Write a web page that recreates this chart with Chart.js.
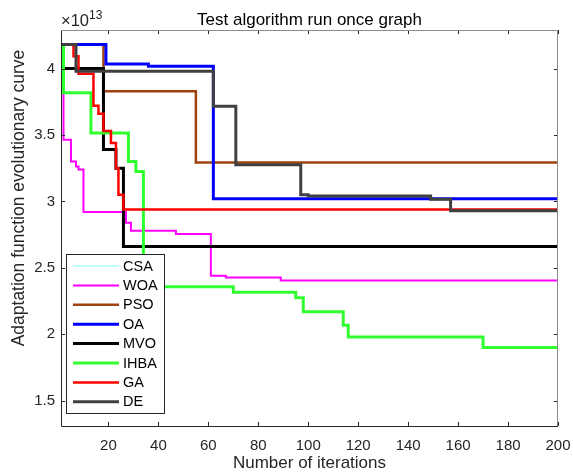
<!DOCTYPE html>
<html>
<head>
<meta charset="utf-8">
<script src="https://cdn.jsdelivr.net/npm/chart.js@4.4.0/dist/chart.umd.min.js"></script>
<style>
  html, body { margin: 0; padding: 0; background: #fff; }
</style>
</head>
<body>
<canvas id="graph" width="573" height="472"></canvas>
<script>
// best fitness per algorithm, in units of 1e13
// each pair of arrays: iteration where a new best appears, and that best value
var csaIter = [1, 7, 62, 71, 97, 100, 149, 157, 200];
var csaVals = [4.18, 3.98, 3.716, 3.276, 3.05, 3.04, 3.017, 2.93, 2.93];

var woaIter = [1, 2, 5, 7, 8, 10, 27, 29, 47, 61, 67, 89, 200];
var woaVals = [4.18, 3.465, 3.30, 3.263, 3.24, 2.92, 2.84, 2.78, 2.755, 2.44, 2.427, 2.404, 2.404];

var psoIter = [1, 18, 55, 200];
var psoVals = [4.18, 3.83, 3.293, 3.293];

var oaIter = [1, 19, 36, 62, 200];
var oaVals = [4.18, 4.035, 4.017, 3.02, 3.02];

var mvoIter = [1, 2, 18, 23, 26, 200];
var mvoVals = [4.18, 4.00, 3.39, 3.25, 2.66, 2.66];

var ihbaIter = [1, 2, 13, 28, 31, 34, 70, 95, 98, 114, 116, 170, 200];
var ihbaVals = [4.18, 3.817, 3.515, 3.30, 3.226, 2.358, 2.316, 2.275, 2.17, 2.069, 1.98, 1.90, 1.90];

var gaIter = [1, 6, 8, 14, 16, 18, 21, 23, 24, 26, 200];
var gaVals = [4.18, 4.093, 3.96, 3.72, 3.66, 3.53, 3.44, 3.25, 3.05, 2.94, 2.94];

var deIter = [1, 7, 62, 71, 97, 100, 149, 157, 200];
var deVals = [4.18, 3.98, 3.716, 3.276, 3.05, 3.04, 3.017, 2.93, 2.93];

var names = ['CSA', 'WOA', 'PSO', 'OA', 'MVO', 'IHBA', 'GA', 'DE'];
var xTicks = [20, 40, 60, 80, 100, 120, 140, 160, 180, 200];
var yTicks = [1.5, 2, 2.5, 3, 3.5, 4];

var colors = ['#80ffff', '#ff00ff', '#a0410d', '#0000ff', '#000000', '#30ff30', '#ff0000', '#404040'];
var widths = [1, 2, 2.5, 3, 3, 3, 2.5, 3];

var FONT = '"Liberation Sans", Arial, sans-serif';
var AXIS = '#262626';

function toPoints(iters, vals) {
    return iters.map(function (it, k) { return { x: it, y: vals[k] }; });
}

var allIter = [csaIter, woaIter, psoIter, oaIter, mvoIter, ihbaIter, gaIter, deIter];
var allVals = [csaVals, woaVals, psoVals, oaVals, mvoVals, ihbaVals, gaVals, deVals];

var datasets = names.map(function (n, i) {
    return {
        label: n,
        data: toPoints(allIter[i], allVals[i]),
        borderColor: colors[i],
        borderWidth: widths[i],
        stepped: true,
        fill: false,
        pointRadius: 0,
        order: names.length - i   // later series drawn on top, like matlab
    };
});

var framePlugin = {
    id: 'frame',
    afterDatasetsDraw: function (chart) {
        var ctx = chart.ctx;
        var a = chart.chartArea;
        var xs = chart.scales.x;
        var ys = chart.scales.y;
        ctx.save();

        // inward tick marks on all four sides
        ctx.strokeStyle = AXIS;
        ctx.lineWidth = 1;
        ctx.beginPath();
        xTicks.forEach(function (v) {
            var px = Math.round(xs.getPixelForValue(v)) + 0.5;
            ctx.moveTo(px, a.bottom); ctx.lineTo(px, a.bottom - 4);
            ctx.moveTo(px, a.top); ctx.lineTo(px, a.top + 4);
        });
        yTicks.forEach(function (v) {
            var py = Math.round(ys.getPixelForValue(v)) + 0.5;
            ctx.moveTo(a.left, py); ctx.lineTo(a.left + 4, py);
            ctx.moveTo(a.right, py); ctx.lineTo(a.right - 4, py);
        });
        ctx.stroke();

        // box
        ctx.beginPath();
        ctx.moveTo(a.left + 0.5, a.top);
        ctx.lineTo(a.left + 0.5, a.bottom + 0.5);
        ctx.lineTo(a.right, a.bottom + 0.5);
        ctx.stroke();
        ctx.strokeStyle = '#8c8c8c';
        ctx.beginPath();
        ctx.moveTo(a.left, a.top + 0.5);
        ctx.lineTo(a.right - 0.5, a.top + 0.5);
        ctx.lineTo(a.right - 0.5, a.bottom);
        ctx.stroke();

        // legend
        var lx = 66, ly = 254, lw = 98, lh = 159;
        ctx.fillStyle = '#fff';
        ctx.fillRect(lx, ly, lw, lh);
        ctx.strokeStyle = AXIS;
        ctx.lineWidth = 1;
        ctx.strokeRect(lx + 0.5, ly + 0.5, lw, lh);
        ctx.font = '14.5px ' + FONT;
        ctx.textBaseline = 'middle';
        ctx.textAlign = 'left';
        chart.data.datasets.forEach(function (ds, i) {
            var y = ly + 12 + i * 19.4;
            ctx.strokeStyle = ds.borderColor;
            ctx.lineWidth = ds.borderWidth;
            ctx.beginPath();
            ctx.moveTo(73, y);
            ctx.lineTo(119, y);
            ctx.stroke();
            ctx.fillStyle = '#000';
            ctx.fillText(ds.label, 123, y + 0.5);
        });

        // title and exponent
        ctx.fillStyle = '#000';
        ctx.textAlign = 'center';
        ctx.textBaseline = 'alphabetic';
        ctx.font = '17px ' + FONT;
        ctx.fillText('Test algorithm run once graph', (a.left + a.right) / 2, 25);

        ctx.fillStyle = AXIS;
        ctx.textAlign = 'left';
        ctx.font = '16.5px ' + FONT;
        ctx.fillText('\u00d710', a.left, 26);
        var w = ctx.measureText('\u00d710').width;
        ctx.font = '12px ' + FONT;
        ctx.fillText('13', a.left + w, 19);

        // y axis label (sits a little above the axis centre in the original)
        ctx.save();
        ctx.translate(19, 198);
        ctx.rotate(-Math.PI / 2);
        ctx.textAlign = 'center';
        ctx.textBaseline = 'middle';
        ctx.font = '17.5px ' + FONT;
        ctx.fillText('Adaptation function evolutionary curve', 0, 0);
        ctx.restore();

        ctx.restore();
    }
};

Chart.defaults.font.family = FONT;

new Chart(document.getElementById('graph'), {
    type: 'line',
    data: { datasets: datasets },
    options: {
        responsive: false,
        animation: false,
        events: [],
        layout: { padding: { left: 0, right: 0, top: 30, bottom: 0 } },
        plugins: {
            legend: { display: false },
            tooltip: { enabled: false }
        },
        scales: {
            x: {
                type: 'linear',
                min: 1,
                max: 200,
                afterBuildTicks: function (s) {
                    s.ticks = xTicks.map(function (v) { return { value: v }; });
                },
                afterFit: function (s) {
                    s.height = 46;
                    s.paddingLeft = 0;
                    s.paddingRight = 15;
                },
                grid: { display: false, drawTicks: false },
                border: { display: false },
                ticks: {
                    color: AXIS, font: { size: 15 }, padding: 11, maxRotation: 0, autoSkip: false,
                    callback: function (v) { return String(v); }
                },
                title: {
                    display: true,
                    text: 'Number of iterations',
                    color: AXIS,
                    font: { size: 17 },
                    padding: { top: 0, bottom: -2 }
                }
            },
            y: {
                type: 'linear',
                min: 1.31,
                max: 4.29,
                afterBuildTicks: function (s) {
                    s.ticks = yTicks.map(function (v) { return { value: v }; });
                },
                afterFit: function (s) { s.width = 61; },
                grid: { display: false, drawTicks: false },
                border: { display: false },
                ticks: {
                    color: AXIS, font: { size: 15 }, padding: 6,
                    callback: function (v) { return String(v); }
                }
            }
        }
    },
    plugins: [framePlugin]
});
</script>
</body>
</html>
